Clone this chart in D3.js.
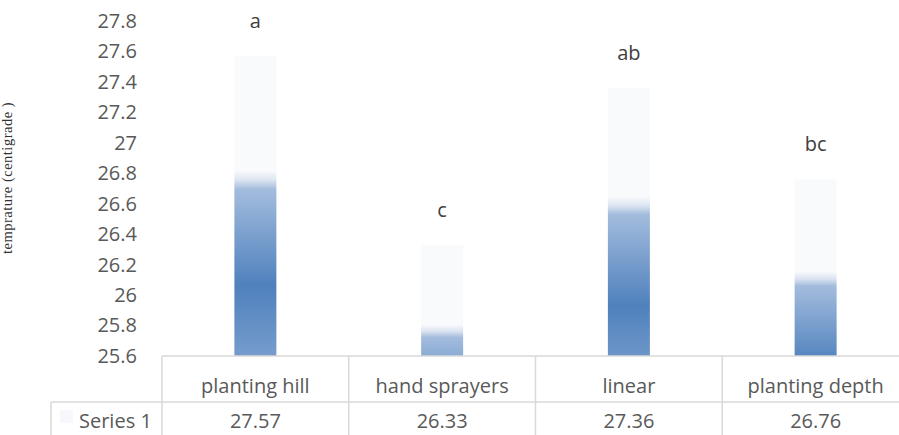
<!DOCTYPE html>
<html><head><meta charset="utf-8">
<script src="https://cdn.jsdelivr.net/npm/d3@7/dist/d3.min.js"></script>
<style>body{margin:0;background:#fff;overflow:hidden}svg{display:block}</style>
</head><body>
<script>
const categories = ["planting hill", "hand sprayers", "linear", "planting depth"];
const values = [27.57, 26.33, 27.36, 26.76];
const letters = ["a", "c", "ab", "bc"];
const seriesName = "Series 1";
const yTicks = [25.6, 25.8, 26, 26.2, 26.4, 26.6, 26.8, 27, 27.2, 27.4, 27.6, 27.8];
const yTitle = "temprature (centigrade )";

const W = 899, H = 435;
const font = "'Open Sans', Lato, sans-serif";
const fs = 20;
const txt = "#595959", grid = "#D9D9D9";
const svg = d3.select("body").append("svg").attr("width", W).attr("height", H);

const x = d3.scaleBand().domain(categories).range([162, 909]).paddingInner(0).paddingOuter(0);
const y = d3.scaleLinear().domain([25.6, 27.8]).range([356, 21]);
const barW = 42;
const gradBase = 23.5;

const defs = svg.append("defs");
const stops = [[0, "#F9FAFC"], [0.185, "#F9FAFC"], [0.2, "#DCE5F1"], [0.215, "#A3BCDD"], [0.37, "#4F81BD"], [0.5, "#7BA0CE"], [1, "#8FAFD6"]];
values.forEach((v, i) => {
  const g = defs.append("linearGradient").attr("id", "g" + i)
    .attr("gradientUnits", "userSpaceOnUse")
    .attr("x1", 0).attr("x2", 0).attr("y1", y(v)).attr("y2", y(gradBase));
  stops.forEach(s => g.append("stop").attr("offset", s[0]).attr("stop-color", s[1]));
});

// Y axis labels
const yAxis = d3.axisLeft(y).tickValues(yTicks).tickSize(0).tickPadding(0).tickFormat(d3.format("~g"));
const ya = svg.append("g").attr("transform", "translate(137,0)").call(yAxis);
ya.select(".domain").remove();
ya.selectAll("text").attr("font-family", font).attr("font-size", fs).attr("fill", txt);

// Y title
svg.append("text").attr("transform", "translate(12,178) rotate(-90)")
  .attr("text-anchor", "middle").attr("font-family", "'Liberation Serif', 'Times New Roman', serif")
  .attr("font-size", 14.5).attr("letter-spacing", 0.5).attr("fill", "#333").text(yTitle);

// Bars
svg.selectAll("rect.bar").data(values).enter().append("rect").attr("class", "bar")
  .attr("x", (d, i) => x(categories[i]) + x.bandwidth() / 2 - barW / 2)
  .attr("width", barW)
  .attr("y", d => y(d))
  .attr("height", d => y(25.6) - y(d))
  .attr("fill", (d, i) => `url(#g${i})`);

// Letters
svg.selectAll("text.let").data(letters).enter().append("text").attr("class", "let")
  .attr("x", (d, i) => x(categories[i]) + x.bandwidth() / 2)
  .attr("y", (d, i) => y(values[i]) - 28)
  .attr("text-anchor", "middle").attr("font-family", font).attr("font-size", fs).attr("fill", "#404040")
  .text(d => d);

// Data table
const t = svg.append("g").attr("stroke", grid).attr("stroke-width", 1.5);
const rowTop = y(25.6), row2 = 402;
t.append("line").attr("x1", x.range()[0]).attr("x2", W).attr("y1", rowTop).attr("y2", rowTop);
t.append("line").attr("x1", 51).attr("x2", W).attr("y1", row2).attr("y2", row2);
categories.forEach(c => {
  t.append("line").attr("x1", x(c)).attr("x2", x(c)).attr("y1", rowTop).attr("y2", H);
});
t.append("line").attr("x1", 51).attr("x2", 51).attr("y1", row2).attr("y2", H);

svg.selectAll("text.cat").data(categories).enter().append("text").attr("class", "cat")
  .attr("x", d => x(d) + x.bandwidth() / 2).attr("y", 393)
  .attr("text-anchor", "middle").attr("font-family", font).attr("font-size", fs).attr("fill", txt)
  .text(d => d);
svg.selectAll("text.val").data(values).enter().append("text").attr("class", "val")
  .attr("x", (d, i) => x(categories[i]) + x.bandwidth() / 2).attr("y", 428)
  .attr("text-anchor", "middle").attr("font-family", font).attr("font-size", fs).attr("fill", txt)
  .text(d => d3.format(".2f")(d));

svg.append("rect").attr("x", 60).attr("y", 410).attr("width", 13).attr("height", 13).attr("fill", "#F6F8FB");
svg.append("text").attr("x", 79).attr("y", 428).attr("font-family", font).attr("font-size", fs).attr("fill", txt).text(seriesName);
</script>
</body></html>
